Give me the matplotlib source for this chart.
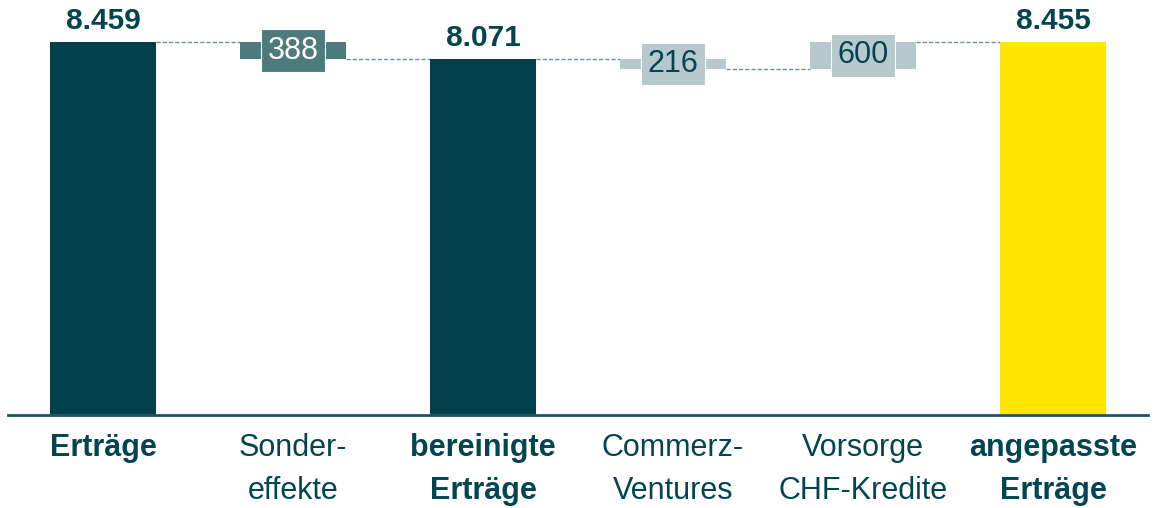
import matplotlib.pyplot as plt

plt.rcParams["font.family"] = ["Liberation Sans", "DejaVu Sans"]

# data
categories = ["Erträge", "Sonder-\neffekte", "bereinigte\nErträge",
              "Commerz-\nVentures", "Vorsorge\nCHF-Kredite", "angepasste\nErträge"]
values = [8459, -388, 8071, -216, 600, 8455]
kinds = ["total", "delta", "total", "delta", "delta", "total"]
value_labels = ["8.459", "388", "8.071", "216", "600", "8.455"]

dark = "#02404B"
mid = "#4D7A7D"
light = "#B7C9CE"
yellow = "#FFE600"
text_col = "#024450"
dash_col = "#6A939B"

total_colors = [dark, dark, yellow]
delta_colors = [mid, light, light]

fig = plt.figure(figsize=(11.7, 5.08), dpi=100)
ax = fig.add_axes([8 / 1170, 93 / 508, 1140 / 1170, 415 / 508])

width = 0.558
level = 0
tops = []
ti = di = 0
for i, (v, k) in enumerate(zip(values, kinds)):
    if k == "total":
        ax.bar(i, v, width=width, color=total_colors[ti], zorder=2)
        ax.annotate(value_labels[i], (i, v), xytext=(0, 5), textcoords="offset points",
                    ha="center", va="bottom", fontsize=21.5, fontweight="bold", color=text_col)
        level = v
        tops.append((v, v))
        ti += 1
    else:
        lo, hi = sorted([level, level + v])
        ax.bar(i, hi - lo, bottom=lo, width=width, color=delta_colors[di], zorder=2)
        fc = delta_colors[di]
        tc = "white" if fc == mid else text_col
        ax.text(i, (lo + hi) / 2, value_labels[i], ha="center", va="center", fontsize=22,
                color=tc, zorder=4,
                bbox=dict(boxstyle="square,pad=0.2", fc=fc, ec="white", lw=0.8))
        tops.append((level, level + v))
        level = level + v
        di += 1

# Verbindungslinien
for i in range(len(values) - 1):
    y = tops[i][1]
    ax.plot([i + width / 2, i + 1 - width / 2], [y, y], ls=(0, (3, 1.5)), lw=1.0,
            color=dash_col, zorder=1)

ax.set_xlim(-0.5, 5.5)
ax.set_ylim(0, 9412)
ax.set_yticks([])
for s in ["top", "right", "left"]:
    ax.spines[s].set_visible(False)
ax.spines["bottom"].set_color("#1F5560")
ax.spines["bottom"].set_linewidth(2)
ax.set_xticks(range(len(categories)))
ax.set_xticklabels(categories, fontsize=22, color=text_col, linespacing=1.55)
ax.tick_params(axis="x", length=0, pad=13)
for lab, k in zip(ax.get_xticklabels(), kinds):
    lab.set_fontweight("bold" if k == "total" else "normal")

fig.savefig("out.png", dpi=100)
